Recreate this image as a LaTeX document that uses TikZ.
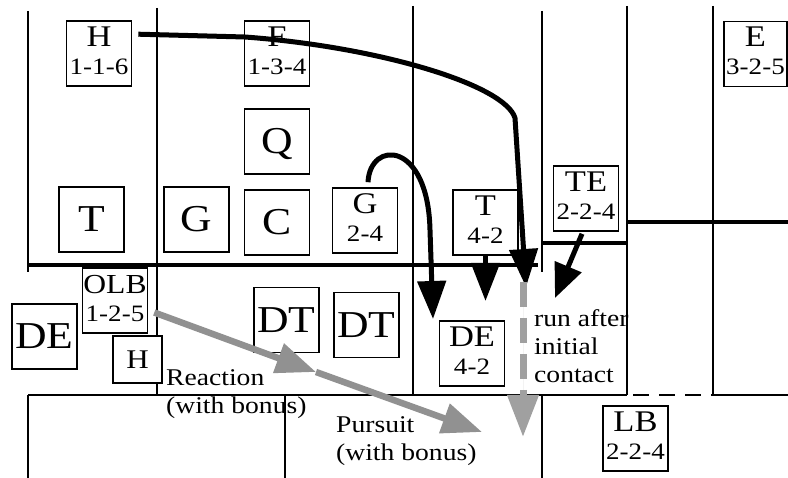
\documentclass[tikz,border=0pt]{standalone}
\usepackage{fontspec}
\setmainfont{Liberation Serif}
\usepackage{graphicx}
\usetikzlibrary{arrows.meta,calc}
\newcommand{\hs}[1]{\scalebox{1.15}[1]{#1}}
\definecolor{arrgray}{RGB}{145,145,145}
\definecolor{dashgray}{RGB}{160,160,160}
\newcommand{\twobox}[5]{%
  \node[box] (#1) at (#2,#3) {};
  \node[toplab] (#1t) at ($(#1.center)+(0,-7)$) {\hs{#4}};
  \node[botlab] (#1b) at ($(#1.center)+(0,21)$) {\hs{#5}};}
\begin{document}
\begin{tikzpicture}[x=1pt,y=-1pt,
  field/.style={line width=1.8pt},
  scrim/.style={line width=3.4pt},
  box/.style={draw, fill=white, line width=1.6pt, minimum width=65pt, minimum height=65pt, inner sep=0pt},
  big/.style={font=\fontsize{38}{38}\selectfont, text height=25pt, text depth=0pt},
  toplab/.style={font=\fontsize{30}{30}\selectfont, anchor=base, inner sep=0pt},
  botlab/.style={font=\fontsize{23.5}{23.5}\selectfont, anchor=base, inner sep=0pt},
  txt/.style={font=\fontsize{24}{24}\selectfont, anchor=base west, inner sep=0pt},
  blackarr/.style={line width=5pt, -{Triangle[length=38pt,width=28pt]}},
  grayarr/.style={draw=arrgray, line width=6.5pt, -{Triangle[length=40pt,width=30pt]}},
]
\fill[white] (0,0) rectangle (788,478);
\useasboundingbox (0,0) rectangle (788,478);

% field lines
\draw[field] (28,11) -- (28,272);
\draw[field] (157,8) -- (157,395);
\draw[field] (413,6) -- (413,395);
\draw[field] (542,11) -- (542,272);
\draw[field] (627,6) -- (627,395);
\draw[field] (713,6) -- (713,395);
\draw[field] (28,395) -- (28,478);
\draw[field] (285,395) -- (285,478);
\draw[field] (542,395) -- (542,478);
\draw[field] (28,395) -- (627,395);
\draw[field, dash pattern=on 16pt off 10pt, dash phase=-6pt] (627,395) -- (713,395);
\draw[field] (713,395) -- (788,395);

% line of scrimmage
\draw[scrim] (28,265) -- (538,265);
\draw[scrim] (542,243) -- (627,243);
\draw[scrim] (627,222) -- (788,222);

% offense
\twobox{hA}{99}{53.5}{H}{1-1-6}
\twobox{fA}{277}{53.5}{F}{1-3-4}
\node[box, big] (q) at (277,141.5) {\hs{Q}};
\node[box, big] (tA) at (91.5,219.5) {\hs{T}};
\node[box, big] (gA) at (196.5,219.5) {\hs{G}};
\node[box, big] (c) at (277,222.5) {\hs{C}};
\twobox{gB}{365}{220.5}{G}{2-4}
\twobox{tB}{485.5}{222.5}{T}{4-2}
\twobox{te}{586}{198.5}{TE}{2-2-4}
\node[box, minimum width=63pt] (eA) at (755.5,54) {};
\node[toplab] (eAt) at ($(eA.center)+(0,-7)$) {\hs{E}};
\node[botlab] (eAb) at ($(eA.center)+(0,21)$) {\hs{3-2-5}};

% defense
\node[box] (olb) at (115,300.5) {};
\node[toplab, font=\fontsize{27.5}{27.5}\selectfont] (olbt) at ($(olb.center)+(0,-7)$) {\hs{OLB}};
\node[botlab] (olbb) at ($(olb.center)+(0,21)$) {\hs{1-2-5}};
\node[box, big] (deA) at (44.5,336.5) {\hs{DE}};
\node[box, minimum width=49pt, minimum height=47pt, font=\fontsize{27}{27}\selectfont, text height=18pt, text depth=0pt] (hB) at (137.5,359.5) {\hs{H}};
\node[box, big] (dtA) at (286.5,320) {\hs{DT}};
\node[box, big] (dtB) at (366.5,325) {\hs{DT}};
\twobox{deB}{472}{353.5}{DE}{4-2}
\twobox{lb}{635.5}{438.5}{LB}{2-2-4}

% texts
\node[txt] (reac1) at (166,386) {\hs{Reaction}};
\node[txt] (reac2) at (166,414) {\hs{(with bonus)}};
\node[txt] (purs1) at (336,433) {\hs{Pursuit}};
\node[txt] (purs2) at (336,461) {\hs{(with bonus)}};
\node[txt] (run1) at (534,327) {\hs{run after}};
\node[txt] (run2) at (534,355) {\hs{initial}};
\node[txt] (run3) at (534,383) {\hs{contact}};

% black arrows
\coordinate (hstart) at ($(hA.north east)+(6,14)$);
\coordinate (htip) at (526,287);
\draw[blackarr] (hstart) -- (245,37) .. controls (380,47) and (505,85) .. (515,118) -- (htip);
\coordinate (gtip) at (433,319);
\draw[blackarr] ($(gB.north)+(3,-5)$) .. controls (370,140) and (428,140) .. (430,230) -- (gtip);
\coordinate (ttip) at (485.5,301);
\draw[blackarr] (tB.south) -- (ttip);
\coordinate (tetip) at (555,298);
\draw[line width=5pt, -{Triangle[length=34pt,width=28pt]}] ($(te.south)+(-4,2)$) -- (tetip);

% gray arrows
\coordinate (rstart) at ($(olb.east)+(6,12)$);
\coordinate (rtip) at (316,372);
\coordinate (ptip) at (482,432);
\draw[grayarr] (rstart) -- (rtip);
\draw[grayarr] (rtip) -- (ptip);
\coordinate (dstart) at (523,282);
\coordinate (dtip) at (523,437);
\draw[draw=dashgray, fill=dashgray, line width=7pt, dash pattern=on 25pt off 11pt, -{Triangle[length=42pt,width=30pt]}] (dstart) -- (dtip);
\end{tikzpicture}
\end{document}
